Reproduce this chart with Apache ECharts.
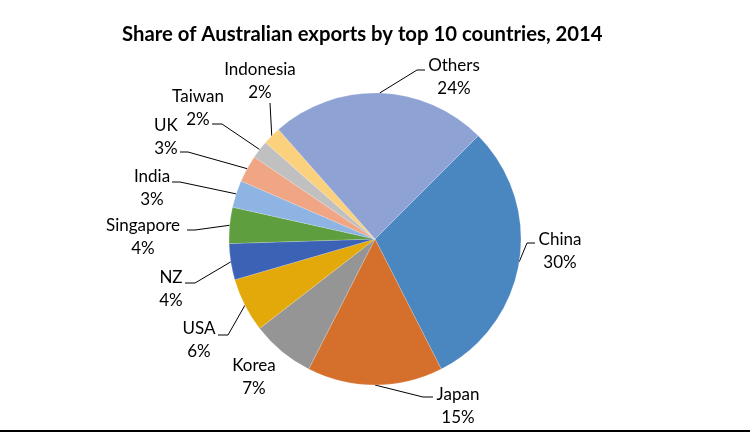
<!DOCTYPE html>
<html>
<head>
<meta charset="utf-8">
<script src="https://cdn.jsdelivr.net/npm/echarts@6/dist/echarts.min.js"></script>
<style>
html,body{margin:0;padding:0;background:#fff;}
#chart{width:750px;height:433px;}
#bottomRule{position:absolute;left:0;top:430px;width:750px;height:2px;background:#000;}
</style>
</head>
<body>
<div id="chart"></div>
<div id="bottomRule"></div>
<script>
var titleText = 'Share of Australian exports by top 10 countries, 2014';
var countries = ['China', 'Japan', 'Korea', 'USA', 'NZ', 'Singapore', 'India', 'UK', 'Taiwan', 'Indonesia', 'Others'];
var shares = [30, 15, 7, 6, 4, 4, 3, 3, 2, 2, 24];
var sliceColors = ['#4a87c0', '#d56f2c', '#959595', '#e3a80a', '#3c62b5', '#5f9e3e', '#8db4e2', '#f0a584', '#c0c0c0', '#fcd17e', '#8fa2d4'];

// label layout (centre of the two-line label block), leader end offsets and elbow offsets
var labelPos = [[560,251],[458,406],[254,377],[199,340],[171,289],[143,237],[152,188],[166,137],[198,108],[260,81],[454,77]];
var leaderEnd = [[-25,-8],[-25,-9],null,[19,-5],[14,-6],[44,-7],[20,-6],[14,15],[14,16],[10,22],[-29,-7]];
var leaderElbow = [-8,-10,0,10,10,8,8,8,10,0,-8];

var chart = echarts.init(document.getElementById('chart'), null, {renderer: 'canvas'});
var data = countries.map(function (c, i) {
  var item = {name: c, value: shares[i], itemStyle: {color: sliceColors[i]}};
  if (!leaderEnd[i]) item.labelLine = {show: false};
  return item;
});
chart.setOption({
  animation: false,
  title: {
    text: titleText,
    left: 117, top: 19,
    textStyle: {fontFamily: 'Lato', fontWeight: 'bold', fontSize: 20.3, color: '#000'}
  },
  series: [{
    type: 'pie',
    center: [375, 239],
    radius: 146,
    startAngle: 45,
    clockwise: true,
    data: data,
    itemStyle: {borderColor: 'rgba(255,255,255,0.35)', borderWidth: 0.5},
    label: {
      show: true,
      position: 'outside',
      formatter: function (p) { return p.name + '\n' + Math.round(p.percent) + '%'; },
      fontFamily: 'Lato', fontSize: 17, color: '#000', lineHeight: 23, align: 'center'
    },
    labelLine: {show: true, length: 10, length2: 10, lineStyle: {color: '#000', width: 1}},
    labelLayout: function (p) {
      var i = p.dataIndex;
      var c = labelPos[i];
      var res = {x: c[0], y: c[1], align: 'center', verticalAlign: 'middle'};
      var e = leaderEnd[i];
      if (e && p.labelLinePoints) {
        var a = p.labelLinePoints[0];
        var end = [c[0] + e[0], c[1] + e[1]];
        var elbow = [end[0] + leaderElbow[i], end[1]];
        res.labelLinePoints = [[a[0], a[1]], elbow, end];
      }
      return res;
    }
  }]
});
</script>
</body>
</html>
